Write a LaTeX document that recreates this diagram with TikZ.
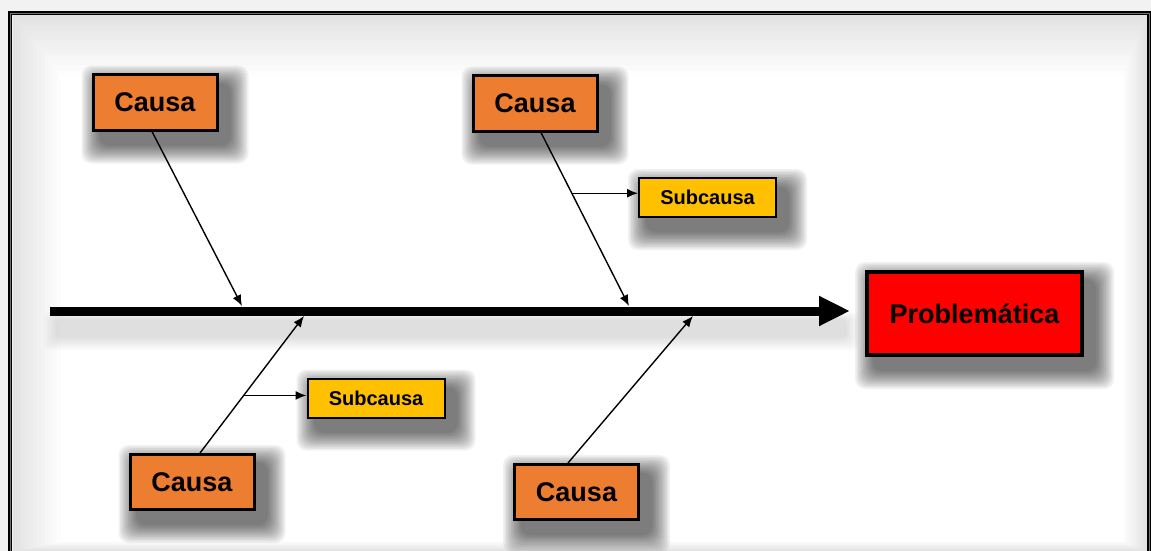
\documentclass[tikz,border=0pt]{standalone}
\usepackage{fontspec}
\setmainfont{Liberation Sans}
\usetikzlibrary{arrows.meta}
\definecolor{causaC}{HTML}{ED7D31}
\definecolor{subC}{HTML}{FFC000}
\definecolor{probC}{HTML}{FF0000}
\pgfdeclarelayer{bg}
\pgfsetlayers{bg,main}
\begin{document}
\begin{tikzpicture}[x=1pt,y=-1pt,
  causa/.style={draw=black,line width=3pt,fill=causaC,minimum width=124pt,minimum height=55pt,inner sep=0pt,font=\fontsize{27}{30}\selectfont\bfseries},
  subcausa/.style={draw=black,line width=2pt,fill=subC,minimum width=137pt,minimum height=39pt,inner sep=0pt,font=\fontsize{20}{24}\selectfont\bfseries},
  problem/.style={draw=black,line width=4pt,fill=probC,minimum width=215pt,minimum height=83pt,inner sep=0pt,font=\fontsize{27}{30}\selectfont\bfseries},
  conn/.style={line width=1.4pt,-{Latex[length=11pt,width=9pt]}},
  spine/.style={line width=9pt,-{Triangle[length=31pt,width=28pt]}},
  shadowlayer/.style={black,fill opacity=0.055,rounded corners=#1}
]
\useasboundingbox (0,0) rectangle (1151,551);

% nodes
\node[causa] (c1) at (155,102.5) {Causa};
\node[causa] (c2) at (535,103.5) {Causa};
\node[causa] (c3) at (192,482) {Causa};
\node[causa] (c4) at (576.5,492) {Causa};
\node[subcausa] (s1) at (707.5,197.5) {Subcausa};
\node[subcausa] (s2) at (376,398) {Subcausa};
\node[problem] (p) at (974.5,313.5) {Problemática};

% spine
\coordinate (spS) at (50,311);
\coordinate (t1) at (242,306);
\coordinate (t2) at (629,306);
\coordinate (t3) at (304,316);
\coordinate (t4) at (693,316);
\draw[spine] (spS) -- ([xshift=-15pt]spS -| p.west);

% causes
\draw[conn] ([xshift=-3pt]c1.south) -- (t1);
\draw[conn] ([xshift=6pt]c2.south) -- (t2) coordinate[pos=0.35] (b1);
\draw[conn] ([xshift=8pt]c3.north) -- (t3) coordinate[pos=0.42] (b2);
\draw[conn] ([xshift=-8.5pt]c4.north) -- (t4);

% subcauses
\draw[conn] (b1) -- (s1.west |- b1);
\draw[conn] (b2) -- (s2.west |- b2);

\begin{pgfonlayer}{bg}
  % background
  \fill[black!5] (0,0) rectangle (1151,551);
  \foreach \i in {0,...,12}{
    \pgfmathsetmacro\g{11*(1-\i/12)}
    \fill[black!\g] (13+4*\i,15+5*\i) rectangle (1147-2*\i,551-0.8*\i);
  }
  % frame
  \draw[line width=4pt] (10,551) -- (10,13) -- (1149,13) -- (1149,551);
  \draw[line width=0.8pt,black!55] (10,551) -- (10,13) -- (1149,13) -- (1149,551);
  % spine shadow
  \foreach \k in {0,...,7}{
    \fill[shadowlayer=6pt,fill opacity=0.014] (58-14+1.75*\k,316-4+1*\k) rectangle (845+14-1.75*\k,336+14-1.75*\k);
  }
  % box shadows
  \foreach \n in {c1,c2,c3,c4,s1,s2,p}{
    \foreach \k in {0,...,11}{
      \fill[shadowlayer=10pt] ([shift={(10-20+1.6*\k,12-20+1.6*\k)}]\n.north west) rectangle ([shift={(10+20-1.6*\k,12+20-1.6*\k)}]\n.south east);
    }
  }
\end{pgfonlayer}
\end{tikzpicture}
\end{document}
